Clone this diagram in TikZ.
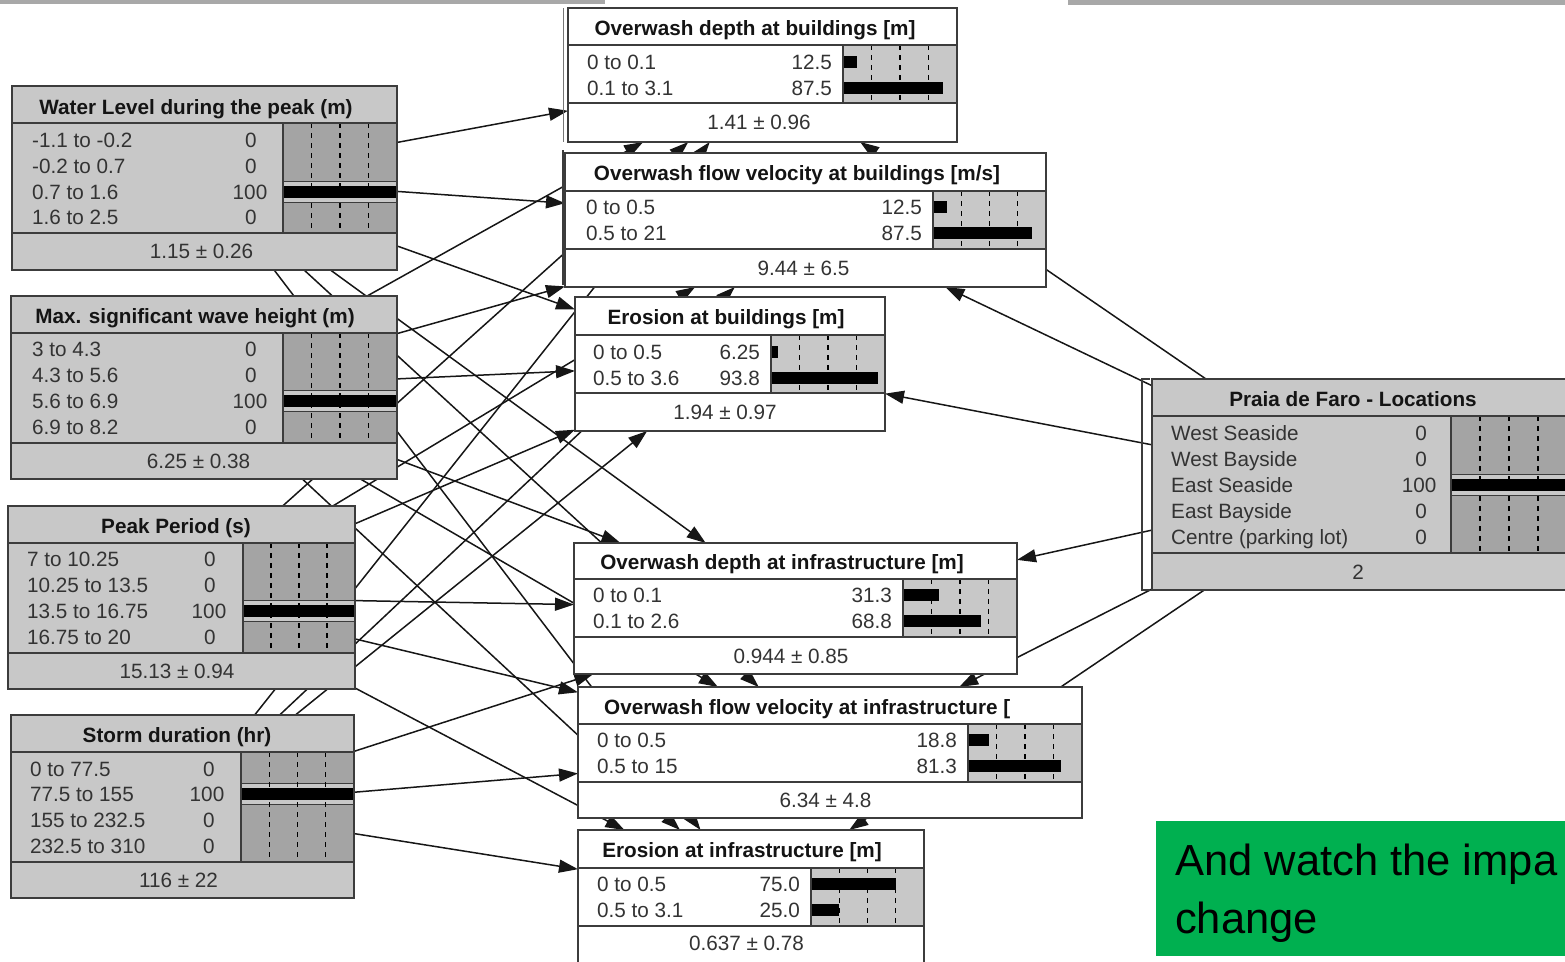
\documentclass[tikz,border=0pt]{standalone}
\usepackage{fontspec}
\setmainfont{Liberation Sans}
\usetikzlibrary{arrows.meta}
\pgfdeclarelayer{background}
\pgfsetlayers{background,main}

\definecolor{ingray}{HTML}{C8C8C8}
\definecolor{bardark}{HTML}{A4A4A4}
\definecolor{barlight}{HTML}{C8C8C8}
\definecolor{edgegray}{HTML}{3C3C3C}
\definecolor{txtdark}{HTML}{141414}
\definecolor{txtrow}{HTML}{333333}
\definecolor{linkc}{HTML}{161616}
\definecolor{slidegreen}{HTML}{00B050}
\definecolor{topgray}{HTML}{A8A8A8}

\tikzset{
  bnframe/.style={draw=edgegray, line width=2pt, inner sep=0pt, outer sep=0pt},
  inbox/.style={bnframe, fill=ingray},
  outbox/.style={bnframe, fill=white},
  sepline/.style={draw=edgegray, line width=2pt},
  dashl/.style={draw=black, line width=1.4pt, dash pattern=on 5pt off 5pt},
  ttl/.style={font=\fontsize{20.7}{24}\selectfont\bfseries, text=txtdark, inner sep=0pt},
  rowtxt/.style={font=\fontsize{20.7}{24}\selectfont, text=txtrow, inner sep=0pt},
  link/.style={draw=linkc, line width=1.5pt, -{Triangle[length=19pt,width=13pt]}},
  greentxt/.style={font=\fontsize{43.5}{58}\selectfont, text=black, inner sep=0pt, anchor=base west},
}

% name, style, x1, y1, x2, y2
\newcommand{\BNbox}[6]{%
  \node[#2, minimum width={(#5)-(#3)}, minimum height={(#6)-(#4)}] (#1) at ({((#3)+(#5))/2},{((#4)+(#6))/2}) {};}
% x1, y1, x2, y2, ytitle, yrows, xbar
\newcommand{\BNsep}[7]{%
  \draw[sepline] (#1,#5) -- (#3,#5) (#1,#6) -- (#3,#6) (#7,#5) -- (#7,#6);
  \draw[sepline] (#1,#2) rectangle (#3,#4);}
% xl, xr, yt, yb, y of the 100 row
\newcommand{\inbar}[5]{%
  \fill[bardark] (#1,#3) rectangle (#2,#4);
  \fill[barlight] (#1,#5-10.5) rectangle (#2,#5+10.5);
  \draw[edgegray, line width=1.2pt] (#1,#5-10.5) -- (#2,#5-10.5) (#1,#5+10.5) -- (#2,#5+10.5);
  \foreach \kk in {0.25,0.5,0.75}{\draw[dashl] ({#1+(#2-#1)*\kk},#3) -- ({#1+(#2-#1)*\kk},#4);}
  \fill[black] (#1,#5-6) rectangle (#2,#5+6);}
% xl, xr, yt, yb, y1, p1, y2, p2
\newcommand{\outbar}[8]{%
  \fill[barlight] (#1,#3) rectangle (#2,#4);
  \foreach \kk in {0.25,0.5,0.75}{\draw[dashl] ({#1+(#2-#1)*\kk},#3) -- ({#1+(#2-#1)*\kk},#4);}
  \fill[black] (#1,#5-6) rectangle ({#1+(#2-#1)*#6/100},#5+6);
  \fill[black] (#1,#7-6) rectangle ({#1+(#2-#1)*#8/100},#7+6);}

\begin{document}
\begin{tikzpicture}[x=1pt,y=-1pt]
\useasboundingbox (0,0) rectangle (1565,961);

% ---------- boxes ----------
\BNbox{wl}{inbox}{12}{86}{397}{270}
\BNbox{hs}{inbox}{11}{296}{397}{479}
\BNbox{tp}{inbox}{8}{506}{355}{689}
\BNbox{sd}{inbox}{11}{715}{354}{898}
\BNbox{loc}{inbox}{1152}{379}{1567}{590}
\BNbox{odb}{outbox}{568}{8}{957}{142}
\BNbox{fvb}{outbox}{565}{153}{1046}{287}
\BNbox{eb}{outbox}{575}{297}{885}{431}
\BNbox{odi}{outbox}{574}{543}{1017}{674}
\BNbox{fvi}{outbox}{578}{687}{1082}{818}
\BNbox{ei}{outbox}{578}{830}{924}{963}

% ---------- links (behind boxes) ----------
\begin{pgfonlayer}{background}
\foreach \sr in {wl,hs,tp,sd,loc}{
  \foreach \tg in {odb,fvb,eb,odi,fvi,ei}{
    \draw[link] (\sr) -- (\tg);
  }}
\end{pgfonlayer}

% ---------- bar areas ----------
\inbar{283}{397}{123}{233}{192}
\inbar{283}{397}{333}{443}{401}
\inbar{243}{355}{543}{653}{611}
\inbar{241}{354}{752}{862}{794}
\inbar{1451}{1567}{416}{553}{485}
\outbar{843}{957}{45}{103}{62}{12.5}{88}{87.5}
\outbar{933}{1046}{191}{249}{207}{12.5}{233}{87.5}
\outbar{771}{885}{335}{393}{352}{6.25}{378}{93.8}
\outbar{903}{1017}{579}{637}{595}{31.3}{621}{68.8}
\outbar{968}{1082}{724}{782}{740}{18.8}{766}{81.3}
\outbar{811}{924}{868}{926}{884}{75.0}{910}{25.0}

% ---------- separators ----------
\BNsep{12}{86}{397}{270}{123}{233}{283}
\BNsep{11}{296}{397}{479}{333}{443}{283}
\BNsep{8}{506}{355}{689}{543}{653}{243}
\BNsep{11}{715}{354}{898}{752}{862}{241}
\BNsep{1152}{379}{1567}{590}{416}{553}{1451}
\BNsep{568}{8}{957}{142}{45}{103}{843}
\BNsep{565}{153}{1046}{287}{191}{249}{933}
\BNsep{575}{297}{885}{431}{335}{393}{771}
\BNsep{574}{543}{1017}{674}{579}{637}{903}
\BNsep{578}{687}{1082}{818}{724}{782}{968}
\BNsep{578}{830}{924}{963}{868}{926}{811}

% selection marks beside some nodes
\draw[edgegray!70, line width=1pt] (563,8) -- (563,142);
\draw[edgegray, line width=2pt] (563,150) -- (563,285);
\draw[edgegray, line width=1.8pt] (1150,379) -- (1142,379) -- (1142,590) -- (1150,590);

% ---------- Water Level ----------
\node[ttl, anchor=base] (wlT) at (196,114) {Water Level during the peak (m)};
\node[rowtxt, anchor=base west] (wlA) at (32,147.5) {-1.1 to -0.2};
\node[rowtxt, anchor=base west] (wlB) at (32,173.5) {-0.2 to 0.7};
\node[rowtxt, anchor=base west] (wlC) at (32,199.5) {0.7 to 1.6};
\node[rowtxt, anchor=base west] (wlD) at (32,224.5) {1.6 to 2.5};
\node[rowtxt, anchor=base] (wlAv) at (251,147.5) {0};
\node[rowtxt, anchor=base] (wlBv) at (251,173.5) {0};
\node[rowtxt, anchor=base] (wlCv) at (250,199.5) {100};
\node[rowtxt, anchor=base] (wlDv) at (251,224.5) {0};
\node[rowtxt, anchor=base] (wlM) at (201.5,258) {1.15 ± 0.26};

% ---------- Max. significant wave height ----------
\node[ttl, anchor=base] (hsT) at (195,323) {Max. significant wave height (m)};
\node[rowtxt, anchor=base west] (hsA) at (32,356.5) {3 to 4.3};
\node[rowtxt, anchor=base west] (hsB) at (32,382.5) {4.3 to 5.6};
\node[rowtxt, anchor=base west] (hsC) at (32,408.5) {5.6 to 6.9};
\node[rowtxt, anchor=base west] (hsD) at (32,434.5) {6.9 to 8.2};
\node[rowtxt, anchor=base] (hsAv) at (251,356.5) {0};
\node[rowtxt, anchor=base] (hsBv) at (251,382.5) {0};
\node[rowtxt, anchor=base] (hsCv) at (250,408.5) {100};
\node[rowtxt, anchor=base] (hsDv) at (251,434.5) {0};
\node[rowtxt, anchor=base] (hsM) at (198.5,468) {6.25 ± 0.38};

% ---------- Peak Period ----------
\node[ttl, anchor=base] (tpT) at (176,533) {Peak Period (s)};
\node[rowtxt, anchor=base west] (tpA) at (27,566.5) {7 to 10.25};
\node[rowtxt, anchor=base west] (tpB) at (27,592.5) {10.25 to 13.5};
\node[rowtxt, anchor=base west] (tpC) at (27,618.5) {13.5 to 16.75};
\node[rowtxt, anchor=base west] (tpD) at (27,644.5) {16.75 to 20};
\node[rowtxt, anchor=base] (tpAv) at (210,566.5) {0};
\node[rowtxt, anchor=base] (tpBv) at (210,592.5) {0};
\node[rowtxt, anchor=base] (tpCv) at (209,618.5) {100};
\node[rowtxt, anchor=base] (tpDv) at (210,644.5) {0};
\node[rowtxt, anchor=base] (tpM) at (177,678.5) {15.13 ± 0.94};

% ---------- Storm duration ----------
\node[ttl, anchor=base] (sdT) at (177,742) {Storm duration (hr)};
\node[rowtxt, anchor=base west] (sdA) at (30,776.5) {0 to 77.5};
\node[rowtxt, anchor=base west] (sdB) at (30,801.5) {77.5 to 155};
\node[rowtxt, anchor=base west] (sdC) at (30,827.5) {155 to 232.5};
\node[rowtxt, anchor=base west] (sdD) at (30,853.5) {232.5 to 310};
\node[rowtxt, anchor=base] (sdAv) at (209,776.5) {0};
\node[rowtxt, anchor=base] (sdBv) at (207,801.5) {100};
\node[rowtxt, anchor=base] (sdCv) at (209,827.5) {0};
\node[rowtxt, anchor=base] (sdDv) at (209,853.5) {0};
\node[rowtxt, anchor=base] (sdM) at (178.5,887.5) {116 ± 22};

% ---------- Praia de Faro ----------
\node[ttl, anchor=base] (locT) at (1353,406) {Praia de Faro - Locations};
\node[rowtxt, anchor=base west] (locA) at (1171,440.5) {West Seaside};
\node[rowtxt, anchor=base west] (locB) at (1171,466.5) {West Bayside};
\node[rowtxt, anchor=base west] (locC) at (1171,492.5) {East Seaside};
\node[rowtxt, anchor=base west] (locD) at (1171,518.5) {East Bayside};
\node[rowtxt, anchor=base west] (locE) at (1171,544.5) {Centre (parking lot)};
\node[rowtxt, anchor=base] (locAv) at (1421,440.5) {0};
\node[rowtxt, anchor=base] (locBv) at (1421,466.5) {0};
\node[rowtxt, anchor=base] (locCv) at (1419,492.5) {100};
\node[rowtxt, anchor=base] (locDv) at (1421,518.5) {0};
\node[rowtxt, anchor=base] (locEv) at (1421,544.5) {0};
\node[rowtxt, anchor=base] (locM) at (1358,579) {2};

% ---------- Overwash depth at buildings ----------
\node[ttl, anchor=base] (odbT) at (755,35) {Overwash depth at buildings [m]};
\node[rowtxt, anchor=base west] (odbA) at (587,69.5) {0 to 0.1};
\node[rowtxt, anchor=base west] (odbB) at (587,95.5) {0.1 to 3.1};
\node[rowtxt, anchor=base east] (odbAv) at (832,69.5) {12.5};
\node[rowtxt, anchor=base east] (odbBv) at (832,95.5) {87.5};
\node[rowtxt, anchor=base] (odbM) at (759,129) {1.41 ± 0.96};

% ---------- Overwash flow velocity at buildings ----------
\node[ttl, anchor=base] (fvbT) at (797,180.5) {Overwash flow velocity at buildings [m/s]};
\node[rowtxt, anchor=base west] (fvbA) at (586,214.5) {0 to 0.5};
\node[rowtxt, anchor=base west] (fvbB) at (586,240.5) {0.5 to 21};
\node[rowtxt, anchor=base east] (fvbAv) at (922,214.5) {12.5};
\node[rowtxt, anchor=base east] (fvbBv) at (922,240.5) {87.5};
\node[rowtxt, anchor=base] (fvbM) at (803.5,275) {9.44 ± 6.5};

% ---------- Erosion at buildings ----------
\node[ttl, anchor=base] (ebT) at (726,324.5) {Erosion at buildings [m]};
\node[rowtxt, anchor=base west] (ebA) at (593,359.5) {0 to 0.5};
\node[rowtxt, anchor=base west] (ebB) at (593,385.5) {0.5 to 3.6};
\node[rowtxt, anchor=base east] (ebAv) at (760,359.5) {6.25};
\node[rowtxt, anchor=base east] (ebBv) at (760,385.5) {93.8};
\node[rowtxt, anchor=base] (ebM) at (725,419) {1.94 ± 0.97};

% ---------- Overwash depth at infrastructure ----------
\node[ttl, anchor=base] (odiT) at (782,569.5) {Overwash depth at infrastructure [m]};
\node[rowtxt, anchor=base west] (odiA) at (593,602.5) {0 to 0.1};
\node[rowtxt, anchor=base west] (odiB) at (593,628.5) {0.1 to 2.6};
\node[rowtxt, anchor=base east] (odiAv) at (892,602.5) {31.3};
\node[rowtxt, anchor=base east] (odiBv) at (892,628.5) {68.8};
\node[rowtxt, anchor=base] (odiM) at (791,663) {0.944 ± 0.85};

% ---------- Overwash flow velocity at infrastructure ----------
\node[ttl, anchor=base west] (fviT) at (604,714) {Overwash flow velocity at infrastructure [};
\node[rowtxt, anchor=base west] (fviA) at (597,747.5) {0 to 0.5};
\node[rowtxt, anchor=base west] (fviB) at (597,773.5) {0.5 to 15};
\node[rowtxt, anchor=base east] (fviAv) at (957,747.5) {18.8};
\node[rowtxt, anchor=base east] (fviBv) at (957,773.5) {81.3};
\node[rowtxt, anchor=base] (fviM) at (825.5,807.5) {6.34 ± 4.8};

% ---------- Erosion at infrastructure ----------
\node[ttl, anchor=base] (eiT) at (742,857.5) {Erosion at infrastructure [m]};
\node[rowtxt, anchor=base west] (eiA) at (597,891.5) {0 to 0.5};
\node[rowtxt, anchor=base west] (eiB) at (597,917.5) {0.5 to 3.1};
\node[rowtxt, anchor=base east] (eiAv) at (800,891.5) {75.0};
\node[rowtxt, anchor=base east] (eiBv) at (800,917.5) {25.0};
\node[rowtxt, anchor=base] (eiM) at (746.5,950.5) {0.637 ± 0.78};

% ---------- slide decorations ----------
\fill[topgray] (0,0) rectangle (605,3.5);
\fill[topgray] (1068,0) rectangle (1565,4.5);
\node[fill=slidegreen, minimum width=409pt, minimum height=135pt, inner sep=0pt, outer sep=0pt, anchor=north west] (green) at (1156,821) {};
\node[greentxt] (gl1) at (1175,875) {And watch the impa};
\node[greentxt] (gl2) at (1175,933) {change};
\end{tikzpicture}
\end{document}
